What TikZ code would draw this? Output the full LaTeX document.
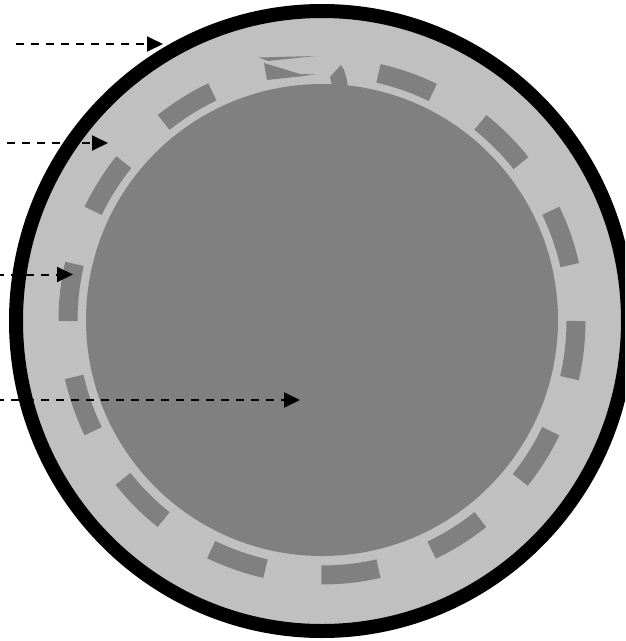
\documentclass[tikz,border=0pt]{standalone}
\usetikzlibrary{arrows.meta}
\definecolor{ringgray}{HTML}{C0C0C0}
\definecolor{coregray}{HTML}{808080}
\tikzset{
  rim/.style     = {draw=black, line width=14pt, fill=ringgray},
  core/.style    = {fill=coregray},
  slot/.style    = {draw=coregray, line width=19pt},
  glitch/.style  = {fill=coregray},
  pointer/.style = {line width=2pt, dash pattern=on 8pt off 7pt, -{Triangle[length=16pt,width=15pt]}}
}
\begin{document}
\begin{tikzpicture}[x=1pt,y=-1pt]
  \useasboundingbox (0,0) rectangle (625,641);
  \clip (0,0) rectangle (625,641);
  \coordinate (O) at (322,321);
  \coordinate (C) at (322,320);

  \draw[rim] (O) ellipse[x radius=306, y radius=310];

  % slots round the ring, the top one is broken
  \foreach \k in {0,...,9,11,12,13}
    \draw[slot, shift={(O)}] ({\k*360/14}:254) arc[start angle={\k*360/14}, end angle={\k*360/14+13}, radius=254];
  \fill[glitch] (259,57.5) -- (315,56) -- (268,61) -- cycle;
  \fill[glitch] (264,63) -- (300,74) -- (315,74.5) -- (300,76.5) -- (267,80) -- cycle;
  \fill[glitch] (330,77) -- (341,65) -- (344,70) -- (347,80) -- (348,90) -- (333,90) -- cycle;

  \fill[core] (C) circle[radius=236];

  \coordinate (s1) at (16,44);  \coordinate (t1) at (163,44);
  \coordinate (s2) at (7,143);  \coordinate (t2) at (108,143);
  \coordinate (s3) at (-4,274.5); \coordinate (t3) at (73,274.5);
  \coordinate (s4) at (-4,400); \coordinate (t4) at (300,400);
  \draw[pointer] (s1) -- (t1);
  \draw[pointer] (s2) -- (t2);
  \draw[pointer] (s3) -- (t3);
  \draw[pointer] (s4) -- (t4);
\end{tikzpicture}
\end{document}
